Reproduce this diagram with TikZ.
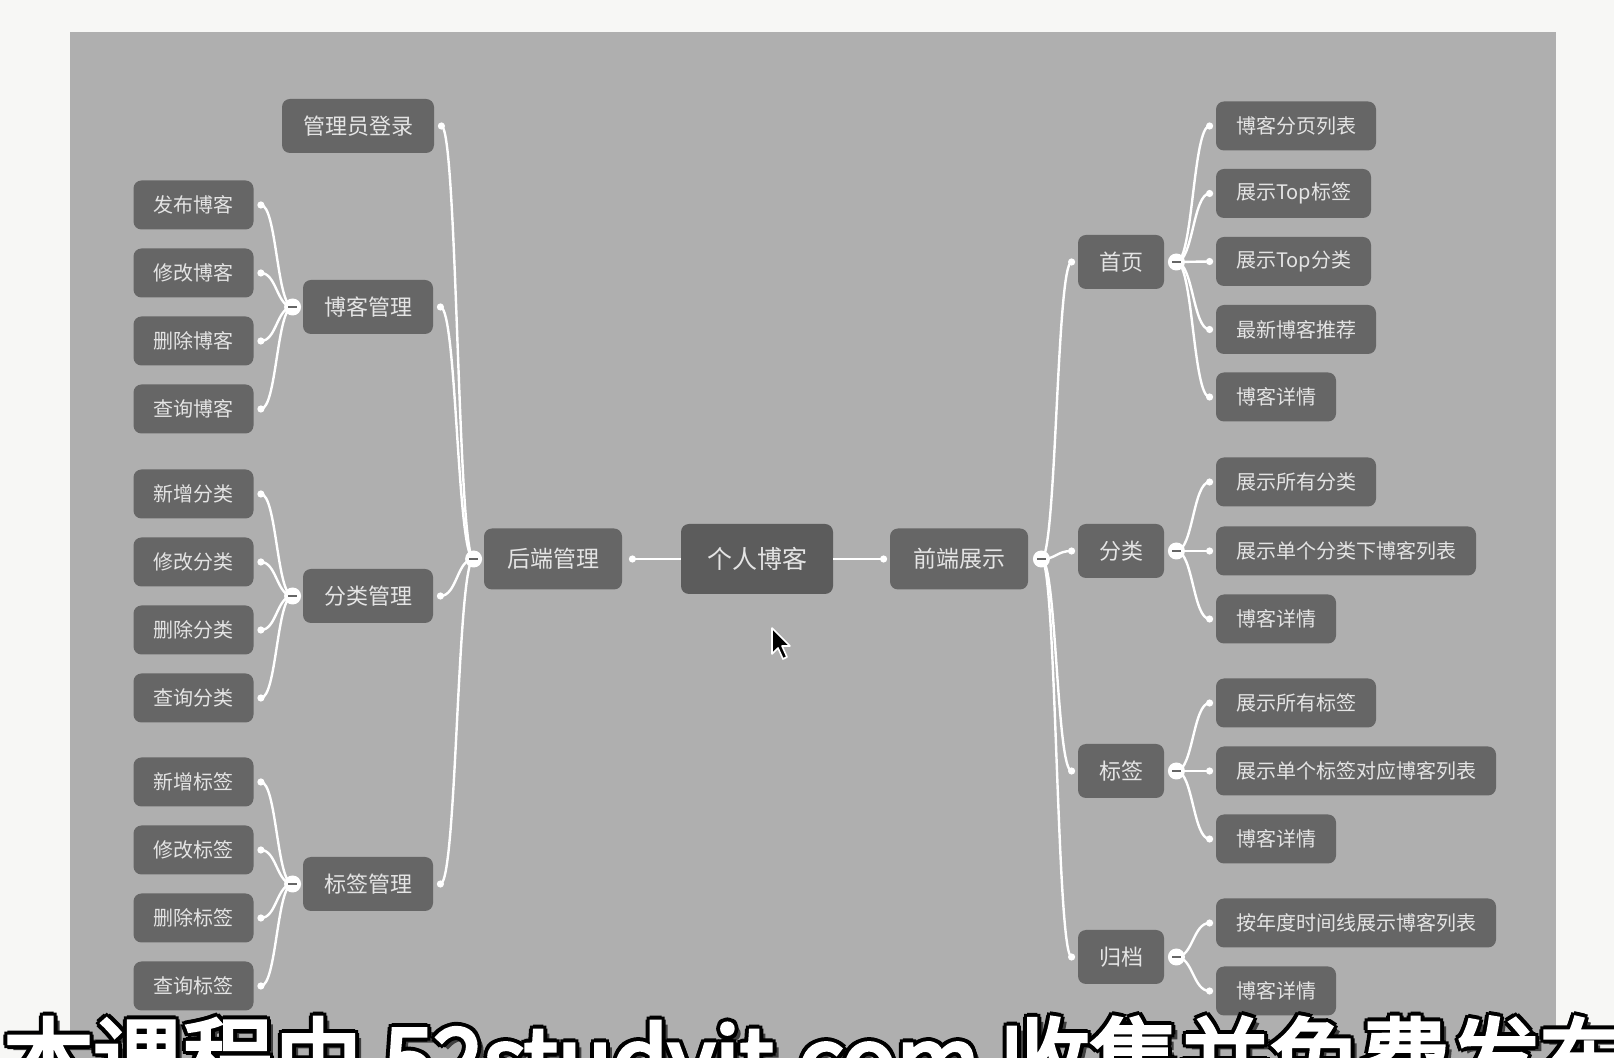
\documentclass[tikz,border=0pt]{standalone}
\usepackage{fontspec}
\setmainfont{Noto Sans CJK SC}
\newfontfamily\markfont[FakeBold=4]{Noto Sans CJK SC}
\usetikzlibrary{calc}

\definecolor{paper}{HTML}{F7F7F5}
\definecolor{panel}{HTML}{AFAFAF}
\definecolor{boxgray}{HTML}{666666}
\definecolor{rootgray}{HTML}{5C5C5C}
\definecolor{labelgray}{HTML}{E4E4E4}

\tikzset{
  box/.style={rounded corners=4pt, fill=boxgray, text=labelgray, inner ysep=0pt},
  leaf/.style={box, font=\fontsize{10}{12}\selectfont, inner xsep=10pt, minimum height=24.5pt},
  topic/.style={box, font=\fontsize{11}{13}\selectfont, inner xsep=10.5pt, minimum height=27pt},
  side/.style={box, font=\fontsize{11.5}{14}\selectfont, inner xsep=11.5pt, minimum height=30.5pt},
  centre/.style={box, fill=rootgray, font=\fontsize{12.5}{15}\selectfont, inner xsep=13pt, minimum height=35pt},
  link/.style={draw=white, line width=1.2pt,
    to path={let \p1=(\tikztostart), \p2=(\tikztotarget) in
      .. controls ({(\x1+\x2)/2},\y1) and ({(\x1+\x2)/2},\y2) .. (\tikztotarget)}},
  dot/.style={circle, fill=white, inner sep=0pt, minimum size=3.6pt},
  fold/.style={circle, fill=white, inner sep=0pt, minimum size=8.5pt,
    path picture={\draw[boxgray, line width=0.9pt]
      ([xshift=-2.2pt]path picture bounding box.center) -- ([xshift=2.2pt]path picture bounding box.center);}},
  stamp/.style={anchor=base west, inner sep=0pt, font=\markfont\fontsize{45}{50}\selectfont},
}

\begin{document}
\begin{tikzpicture}[x=0.5pt,y=0.5pt,yscale=-1]
\useasboundingbox (0,0) rectangle (1614,1058);
\clip (0,0) rectangle (1614,1058);

% background
\fill[paper] (0,0) rectangle (1614,1058);
\fill[panel] (70,32) rectangle (1556,1070);

% centre and the two sides
\node[centre] (blog) at (757,559) {个人博客};
\node[side] (back) at (553,559) {后端管理};
\node[side] (front) at (959,559) {前端展示};
\coordinate (back-r) at ($(back.east)+(10,0)$);
\coordinate (back-f) at ($(back.west)+(-10,0)$);
\coordinate (front-l) at ($(front.west)+(-6,0)$);
\coordinate (front-f) at ($(front.east)+(13,0)$);
\draw[link] (blog) -- (back-r);
\draw[link] (blog) -- (front-l);

% second level, left
\node[topic] (login) at (358,126) {管理员登录};
\node[topic] (blogmgr) at (368,307) {博客管理};
\node[topic] (catmgr) at (368,596) {分类管理};
\node[topic] (tagmgr) at (368,884) {标签管理};
\foreach \nm in {login,blogmgr,catmgr,tagmgr} {
  \coordinate (\nm-r) at ($(\nm.east)+(7,0)$);
  \draw[link] (back-f) to (\nm-r);
}
\foreach \nm in {blogmgr,catmgr,tagmgr}
  \coordinate (\nm-f) at ($(\nm.west)+(-10,0)$);

% second level, right
\node[topic] (home) at (1121,262) {首页};
\node[topic] (cat) at (1121,551) {分类};
\node[topic] (tag) at (1121,771) {标签};
\node[topic] (arch) at (1121,957) {归档};
\foreach \nm in {home,cat,tag,arch} {
  \coordinate (\nm-l) at ($(\nm.west)+(-6,0)$);
  \coordinate (\nm-f) at ($(\nm.east)+(12,0)$);
  \draw[link] (front-f) to (\nm-l);
}

% leaves, left
\foreach \pa/\nm/\yy/\tx in {blogmgr/pb/205/发布博客, blogmgr/eb/273/修改博客, blogmgr/db/341/删除博客, blogmgr/qb/409/查询博客,
    catmgr/pc/494/新增分类, catmgr/ec/562/修改分类, catmgr/dc/630/删除分类, catmgr/qc/698/查询分类,
    tagmgr/pt/782/新增标签, tagmgr/et/850/修改标签, tagmgr/dt/918/删除标签, tagmgr/qt/986/查询标签} {
  \node[leaf] (\nm) at (193.5,\yy) {\tx};
  \coordinate (\nm-r) at ($(\nm.east)+(7,0)$);
  \draw[link] (\pa-f) to (\nm-r);
  \node[dot] (\nm-dot) at (\nm-r) {};
}

% leaves, right
\foreach \pa/\nm/\yy/\tx in {home/h1/126/博客分页列表, home/h2/193.5/展示Top标签, home/h3/261.5/展示Top分类, home/h4/329.5/最新博客推荐, home/h5/397/博客详情,
    cat/c1/482/展示所有分类, cat/c2/551/展示单个分类下博客列表, cat/c3/619/博客详情,
    tag/t1/703/展示所有标签, tag/t2/771/展示单个标签对应博客列表, tag/t3/839/博客详情,
    arch/a1/923/按年度时间线展示博客列表, arch/a2/991/博客详情} {
  \node[leaf, anchor=west] (\nm) at (1215.6,\yy) {\tx};
  \coordinate (\nm-l) at ($(\nm.west)+(-6,0)$);
  \draw[link] (\pa-f) to (\nm-l);
  \node[dot] (\nm-dot) at (\nm-l) {};
}

% dots and fold buttons
\foreach \nm in {back-r,front-l,login-r,blogmgr-r,catmgr-r,tagmgr-r,home-l,cat-l,tag-l,arch-l}
  \node[dot] (\nm-dot) at (\nm) {};
\foreach \nm in {back-f,front-f,blogmgr-f,catmgr-f,tagmgr-f,home-f,cat-f,tag-f,arch-f}
  \node[fold] (\nm-btn) at (\nm) {};

% mouse pointer
\draw[fill=black, draw=white, line width=0.8pt, line join=round]
  (772,628) -- (772,654) -- (778,648) -- (783,659) -- (787,657) -- (782,646) -- (790,646) -- cycle;

% watermark
\def\marktext{本课程由 52studyit.com 收集并免费发布}
\node[stamp, text=black!75] (markshadow) at (9,1098) {\marktext};
\foreach \dx/\dy [count=\i] in {-4/0,4/0,0/-4,0/4,-3/-3,3/3,-3/3,3/-3}
  \node[stamp, text=black] (markedge\i) at (3+\dx,1093+\dy) {\marktext};
\node[stamp, text=white] (marktop) at (3,1093) {\marktext};
\end{tikzpicture}
\end{document}
